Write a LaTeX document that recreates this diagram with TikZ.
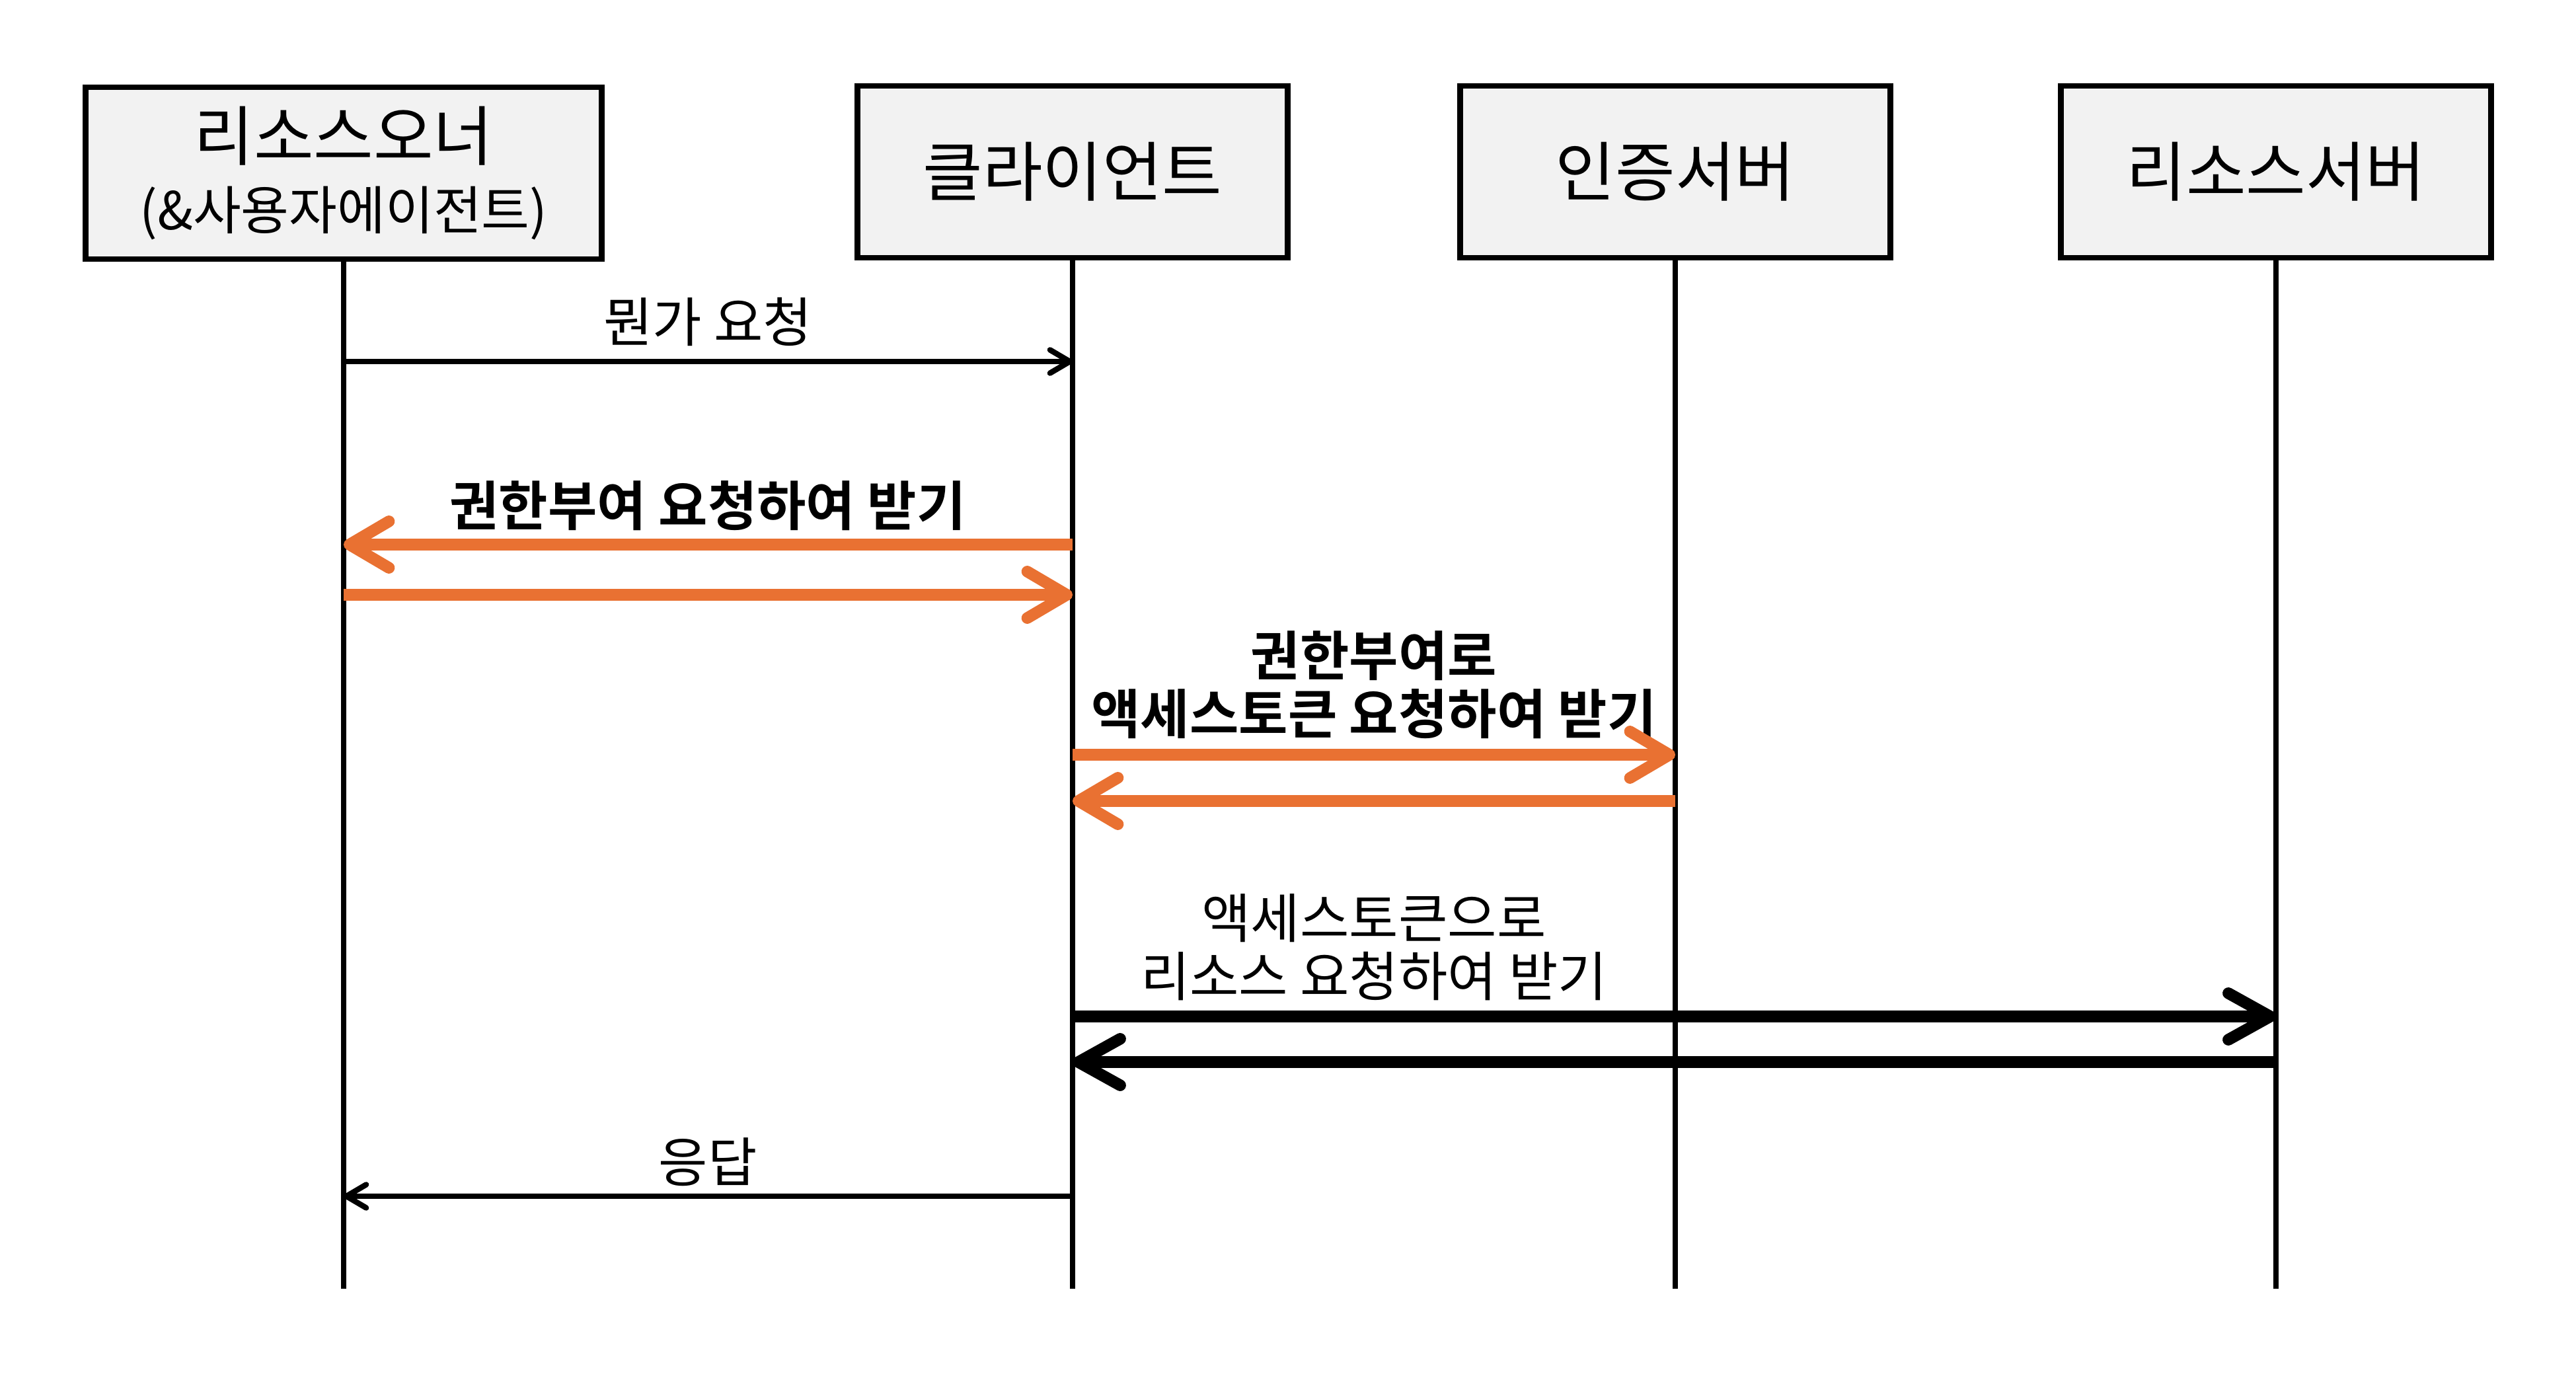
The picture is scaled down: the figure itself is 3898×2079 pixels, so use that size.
\documentclass[tikz,border=0pt]{standalone}
\usepackage{fontspec}
\setmainfont{Noto Sans CJK KR}[BoldFont={Noto Sans CJK KR Bold}]
\usetikzlibrary{arrows.meta}
\definecolor{boxfill}{HTML}{F2F2F2}
\definecolor{orng}{HTML}{E97132}
\begin{document}
\begin{tikzpicture}[x=0.01cm,y=-0.01cm,
  actor/.style={draw=black, line width=2.5pt, fill=boxfill, minimum height=2.6cm,
    inner sep=0pt, align=center, font=\fontsize{28}{30}\selectfont},
  lifeline/.style={line width=2.4pt, black},
  lbl/.style={font=\fontsize{23}{25}\selectfont, align=center, inner sep=0pt},
  blbl/.style={lbl, font=\fontsize{23}{25}\selectfont\bfseries},
  thinmsg/.style={line width=2.4pt, black, -{Straight Barb[length=8.5pt,width=10pt,round]}},
  orangemsg/.style={line width=5pt, orng, -{Straight Barb[length=17pt,width=20pt,round]}},
  thickmsg/.style={line width=5pt, black, -{Straight Barb[length=18pt,width=20pt,round]}}
]
\useasboundingbox (0,0) rectangle (3898,2079);

% actors
\node[actor, minimum width=7.81cm] (ro) at (520,262)
  {리소스오너\\{\fontsize{22.5}{29}\selectfont(\&사용자에이전트)}};
\node[actor, minimum width=6.51cm] (cl) at (1623,260) {클라이언트};
\node[actor, minimum width=6.51cm] (as) at (2535,260) {인증서버};
\node[actor, minimum width=6.51cm] (rs) at (3444,260) {리소스서버};

% lifeline ends
\coordinate (roEnd) at (520,1950);
\coordinate (clEnd) at (1623,1950);
\coordinate (asEnd) at (2535,1950);
\coordinate (rsEnd) at (3444,1950);
\draw[lifeline] (ro) -- (roEnd);
\draw[lifeline] (cl) -- (clEnd);
\draw[lifeline] (as) -- (asEnd);
\draw[lifeline] (rs) -- (rsEnd);

% message levels
\coordinate (m1) at (0,547);
\coordinate (m2) at (0,824);
\coordinate (m3) at (0,900);
\coordinate (m4) at (0,1142);
\coordinate (m5) at (0,1212);
\coordinate (m6) at (0,1538);
\coordinate (m7) at (0,1607);
\coordinate (m8) at (0,1810);

% messages
\node[lbl] (t1) at (1071,487) {뭔가 요청};
\draw[thinmsg] (ro |- m1) -- (cl |- m1);

\node[blbl] (t2) at (1071,765) {권한부여 요청하여 받기};
\draw[orangemsg] (cl |- m2) -- (ro |- m2);
\draw[orangemsg] (ro |- m3) -- (cl |- m3);

\node[blbl] (t3) at (2079,1036) {권한부여로\\액세스토큰 요청하여 받기};
\draw[orangemsg] (cl |- m4) -- (as |- m4);
\draw[orangemsg] (as |- m5) -- (cl |- m5);

\node[lbl] (t4) at (2079,1433) {액세스토큰으로\\리소스 요청하여 받기};
\draw[thickmsg] (cl |- m6) -- (rs |- m6);
\draw[thickmsg] (rs |- m7) -- (cl |- m7);

\node[lbl] (t5) at (1071,1758) {응답};
\draw[thinmsg] (cl |- m8) -- (ro |- m8);
\end{tikzpicture}
\end{document}
